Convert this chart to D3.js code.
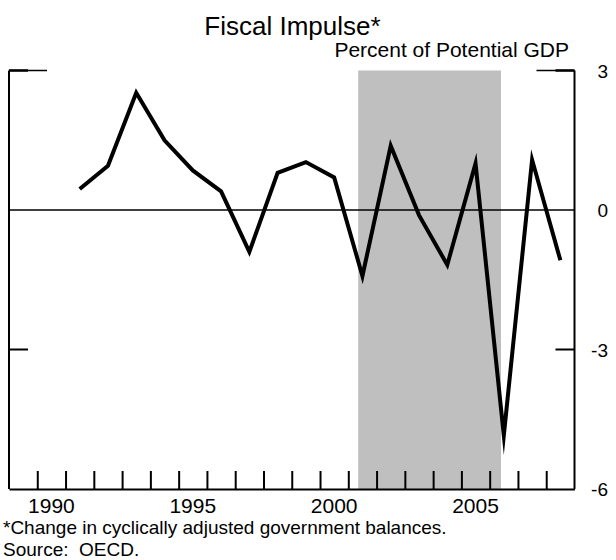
<!DOCTYPE html>
<html>
<head>
<meta charset="utf-8">
<script src="https://cdn.jsdelivr.net/npm/d3@7"></script>
<style>
  html, body { margin: 0; padding: 0; background: #fff; }
  svg { display: block; font-family: "Liberation Sans", Arial, sans-serif; }
  .axis path, .axis line { stroke: #000; }
</style>
</head>
<body>
<div id="chart"></div>
<script>
(function () {
  "use strict";

  // Data (annual, plotted at mid-year)
  const years  = [1991, 1992, 1993, 1994, 1995, 1996, 1997, 1998, 1999, 2000,
                  2001, 2002, 2003, 2004, 2005, 2006, 2007, 2008];
  const impulse = [0.45, 0.95, 2.52, 1.5, 0.85, 0.4, -0.9, 0.8, 1.03, 0.7,
                   -1.42, 1.38, -0.11, -1.18, 1.0, -4.85, 1.08, -1.08];
  const shadeSpan = [2001.35, 2006.4];
  const yearTicks = d3.range(1990, 2009);
  const yearLabels = [1990, 1995, 2000, 2005];
  const valueLabels = [3, 0, -3, -6];

  const W = 616, H = 560;
  const left = 9, right = 574.5, top = 70.5, bottom = 489;

  const x = d3.scaleLinear().domain([1989, 2009]).range([left, right]);
  const y = d3.scaleLinear().domain([-6, 3]).range([bottom, top]);

  const svg = d3.select("#chart").append("svg")
    .attr("width", W).attr("height", H);

  // Shaded period
  svg.append("rect")
    .attr("x", x(shadeSpan[0]))
    .attr("y", y(3))
    .attr("width", x(shadeSpan[1]) - x(shadeSpan[0]))
    .attr("height", y(-6) - y(3))
    .attr("fill", "#bfbfbf");

  // Bottom axis with inward year ticks
  svg.append("g")
    .attr("class", "axis")
    .attr("transform", `translate(0,${bottom})`)
    .call(d3.axisBottom(x).tickValues(yearTicks).tickSize(-18).tickSizeOuter(0).tickFormat(""))
    .call(g => g.select(".domain").attr("stroke-width", 2))
    .call(g => g.selectAll(".tick line").attr("stroke-width", 2));

  // Left and right frame
  [left, right].forEach(px => {
    svg.append("line")
      .attr("x1", px).attr("x2", px)
      .attr("y1", y(3)).attr("y2", y(-6))
      .attr("stroke", "#000").attr("stroke-width", 2);
  });

  // Value ticks: long cap at top, short at -3
  const dir = [{ px: left, s: 1 }, { px: right, s: -1 }];
  dir.forEach(d => {
    svg.append("line")
      .attr("x1", d.px).attr("x2", d.px + d.s * 38)
      .attr("y1", y(3)).attr("y2", y(3))
      .attr("stroke", "#000").attr("stroke-width", 1.5);
    svg.append("line")
      .attr("x1", d.px).attr("x2", d.px + d.s * 19)
      .attr("y1", y(3)).attr("y2", y(3))
      .attr("stroke", "#000").attr("stroke-width", 2.5);
    svg.append("line")
      .attr("x1", d.px).attr("x2", d.px + d.s * 19)
      .attr("y1", y(-3)).attr("y2", y(-3))
      .attr("stroke", "#000").attr("stroke-width", 2);
  });

  // Zero line
  svg.append("line")
    .attr("x1", left).attr("x2", right)
    .attr("y1", y(0)).attr("y2", y(0))
    .attr("stroke", "#000").attr("stroke-width", 1.5);

  // Series
  const line = d3.line()
    .x((d, i) => x(years[i] + 0.5))
    .y(d => y(d));

  svg.append("path")
    .datum(impulse)
    .attr("d", line)
    .attr("fill", "none")
    .attr("stroke", "#000")
    .attr("stroke-width", 4)
    .attr("stroke-linejoin", "miter")
    .attr("stroke-miterlimit", 30);

  // Year labels
  svg.selectAll(".year-label")
    .data(yearLabels)
    .join("text")
    .attr("class", "year-label")
    .attr("x", d => x(d + 0.5))
    .attr("y", 512.5)
    .attr("text-anchor", "middle")
    .attr("font-size", 21)
    .text(d => d);

  // Value labels on right
  svg.selectAll(".value-label")
    .data(valueLabels)
    .join("text")
    .attr("class", "value-label")
    .attr("x", 608)
    .attr("y", d => y(d) + 7)
    .attr("text-anchor", "end")
    .attr("font-size", 19)
    .text(d => d);

  // Titles
  svg.append("text")
    .attr("x", 292.5).attr("y", 35)
    .attr("text-anchor", "middle")
    .attr("font-size", 26)
    .text("Fiscal Impulse*");

  svg.append("text")
    .attr("x", 569).attr("y", 57)
    .attr("text-anchor", "end")
    .attr("font-size", 21)
    .text("Percent of Potential GDP");

  // Footnotes
  svg.append("text")
    .attr("x", 3).attr("y", 534)
    .attr("font-size", 19)
    .text("*Change in cyclically adjusted government balances.");

  svg.append("text")
    .attr("x", 3).attr("y", 556)
    .attr("font-size", 19)
    .style("white-space", "pre")
    .text("Source:  OECD.");
})();
</script>
</body>
</html>
